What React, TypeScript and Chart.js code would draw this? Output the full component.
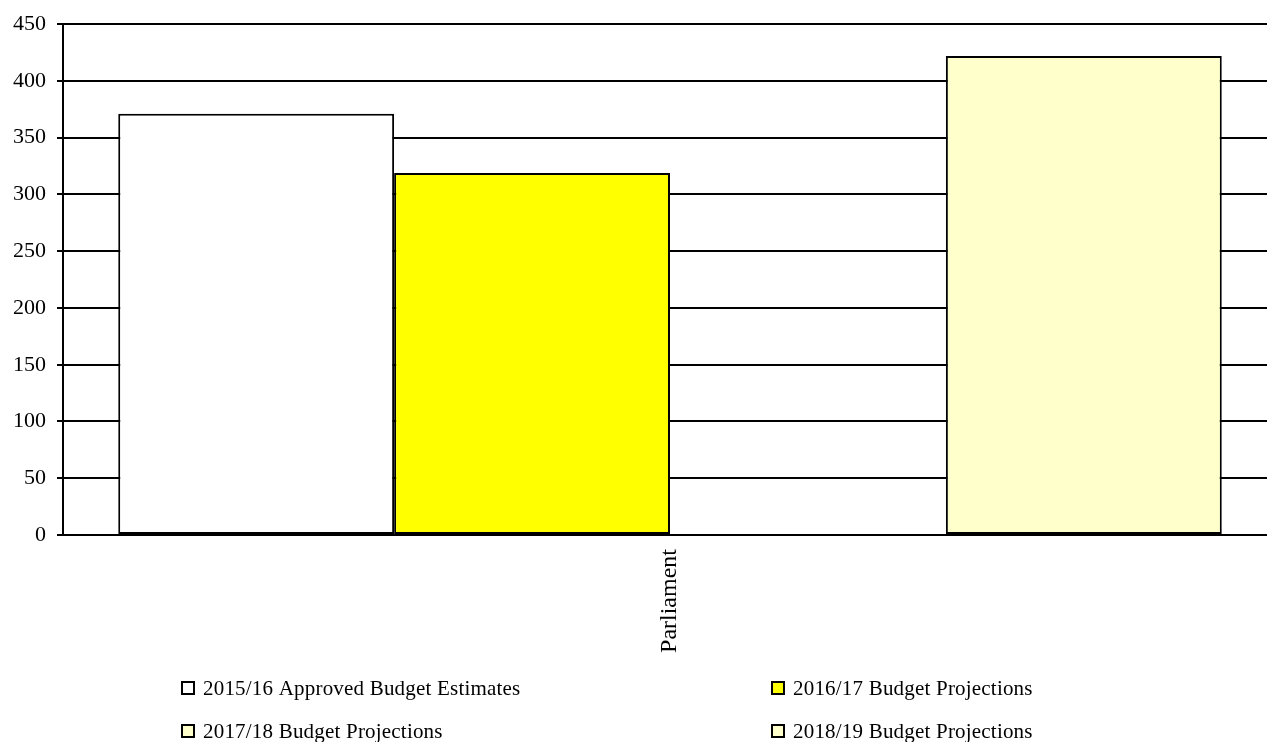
import React, { useEffect, useRef } from "react";
import { Chart, registerables } from "chart.js";

Chart.register(...registerables);

const categories = ["Parliament"];
const seriesNames = [
  "2015/16 Approved Budget Estimates",
  "2016/17 Budget Projections",
  "2017/18 Budget Projections",
  "2018/19 Budget Projections",
];
const values2015 = [371];
const values2016 = [319];
const values2017 = [0];
const values2018 = [422];
const seriesColors = ["#FFFFFF", "#FFFF00", "#FFFFCC", "#FFFFCC"];
const yTicks = [0, 50, 100, 150, 200, 250, 300, 350, 400, 450];

const FONT = "'Liberation Serif', 'Times New Roman', serif";

const legendPlugin = {
  id: "twoColLegend",
  afterDraw(chart: any) {
    const ctx = chart.ctx;
    const cols = [182, 772];
    const rows = [688, 731];
    ctx.save();
    ctx.font = `21px ${FONT}`;
    try {
      (ctx as any).letterSpacing = "0.2px";
    } catch (e) {}
    ctx.textBaseline = "middle";
    ctx.textAlign = "left";
    chart.data.datasets.forEach((ds: any, i: number) => {
      const x = cols[i % 2];
      const y = rows[Math.floor(i / 2)];
      ctx.fillStyle = ds.backgroundColor;
      ctx.fillRect(x, y - 6, 12, 12);
      ctx.lineWidth = 2;
      ctx.strokeStyle = "#000";
      ctx.strokeRect(x, y - 6, 12, 12);
      ctx.fillStyle = "#000";
      ctx.fillText(ds.label, x + 21, y + 1);
    });
    ctx.restore();
  },
};

export default function App() {
  const ref = useRef<HTMLCanvasElement>(null);
  useEffect(() => {
    if (!ref.current) return;
    const data = [values2015, values2016, values2017, values2018];
    const chart = new Chart(ref.current, {
      type: "bar",
      data: {
        labels: categories,
        datasets: seriesNames.map((name, i) => ({
          label: name,
          data: data[i],
          backgroundColor: seriesColors[i],
          borderColor: "#000",
          borderWidth: 2,
          borderSkipped: false,
          barPercentage: 1,
          categoryPercentage: 0.909,
        })),
      },
      options: {
        animation: false,
        responsive: false,
        maintainAspectRatio: false,
        layout: { padding: { top: 24, right: 0, bottom: 0, left: 0 } },
        plugins: { legend: { display: false }, tooltip: { enabled: false } },
        scales: {
          x: {
            grid: { display: false },
            border: { display: true, color: "#000", width: 2 },
            ticks: {
              color: "#000",
              font: { family: FONT, size: 24 },
              minRotation: 90,
              maxRotation: 90,
              padding: 6,
            },
            afterFit: (s: any) => {
              s.height = 207;
            },
          },
          y: {
            min: 0,
            max: 450,
            afterBuildTicks: (s: any) => {
              s.ticks = yTicks.map((v) => ({ value: v }));
            },
            grid: { color: "#000", lineWidth: 2, tickLength: 6, drawTicks: true },
            border: { display: true, color: "#000", width: 2 },
            ticks: {
              color: "#000",
              font: { family: FONT, size: 22 },
              padding: 11,
            },
            afterFit: (s: any) => {
              s.width = 63;
            },
          },
        },
      },
      plugins: [legendPlugin],
    });
    return () => chart.destroy();
  }, []);
  return (
    <div style={{ position: "fixed", left: 0, top: 0, width: 1267, height: 742, overflow: "hidden", background: "#fff" }}>
      <canvas ref={ref} width={1277} height={742} style={{ display: "block" }} />
    </div>
  );
}
